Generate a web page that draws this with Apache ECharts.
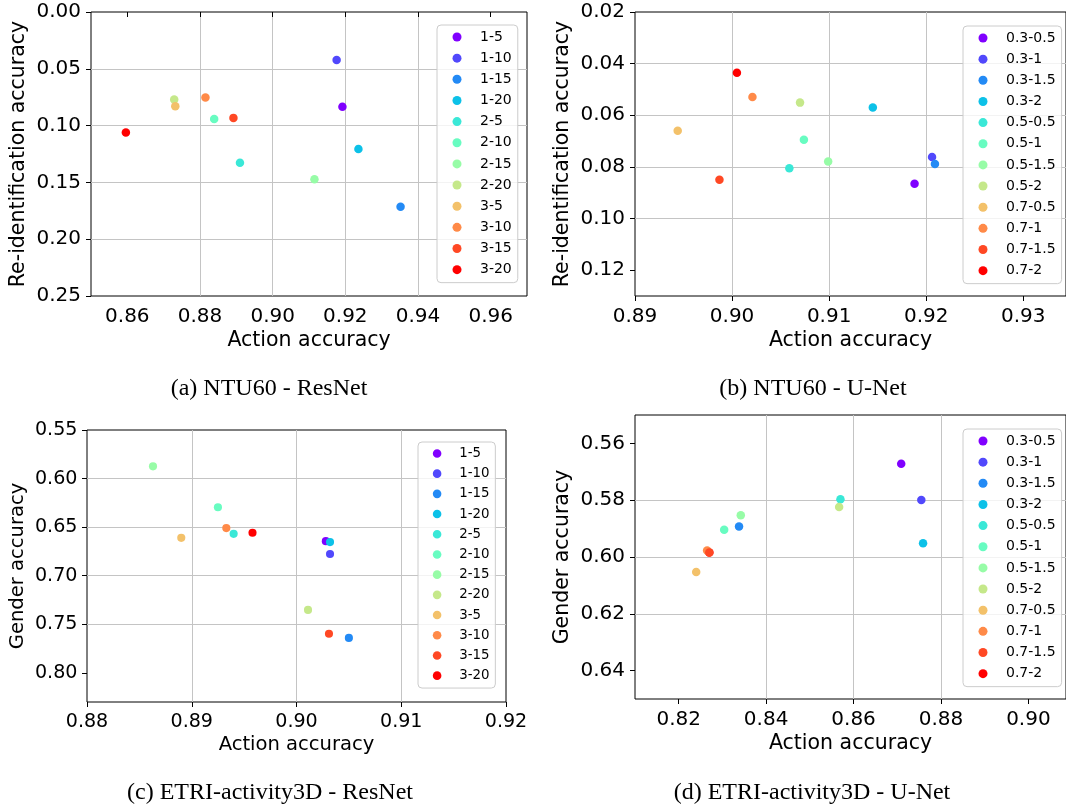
<!DOCTYPE html>
<html><head><meta charset="utf-8">
<script src="https://cdn.jsdelivr.net/npm/echarts@6/dist/echarts.min.js"></script>
<style>html,body{margin:0;padding:0;background:#fff}#c{width:1066px;height:808px}</style>
</head><body><div id="c"></div>
<script>
// ---- categories ----
const resNames = ['1-5','1-10','1-15','1-20','2-5','2-10','2-15','2-20','3-5','3-10','3-15','3-20'];
const unetNames = ['0.3-0.5','0.3-1','0.3-1.5','0.3-2','0.5-0.5','0.5-1','0.5-1.5','0.5-2','0.7-0.5','0.7-1','0.7-1.5','0.7-2'];

// ---- (a) NTU60 - ResNet ----
const ntuResAction = [0.9192,0.9176,0.9352,0.9236,0.8910,0.8839,0.9115,0.8729,0.8732,0.8815,0.8892,0.8596];
const ntuResReid   = [0.0835,0.0423,0.1714,0.1205,0.1326,0.0941,0.1473,0.0770,0.0829,0.0752,0.0932,0.1061];
// ---- (b) NTU60 - U-Net ----
const ntuUnetAction = [0.9188,0.9206,0.9209,0.9145,0.9059,0.9074,0.9099,0.9070,0.8944,0.9021,0.8987,0.9005];
const ntuUnetReid   = [0.0865,0.0762,0.0789,0.0570,0.0805,0.0695,0.0779,0.0551,0.0660,0.0529,0.0850,0.0435];
// ---- (c) ETRI-activity3D - ResNet ----
const etriResAction = [0.9028,0.9032,0.9050,0.9032,0.8940,0.8925,0.8863,0.9011,0.8890,0.8933,0.9031,0.8958];
const etriResGender = [0.6644,0.6777,0.7640,0.6654,0.6569,0.6295,0.5874,0.7352,0.6610,0.6510,0.7598,0.6558];
// ---- (d) ETRI-activity3D - U-Net ----
const etriUnetAction = [0.8709,0.8755,0.8338,0.8759,0.8570,0.8304,0.8342,0.8567,0.8240,0.8265,0.8270,0.8270];
const etriUnetGender = [0.5672,0.5799,0.5893,0.5952,0.5797,0.5904,0.5853,0.5824,0.6053,0.5977,0.5984,0.5984];

// ---- axis ranges and tick labels ----
const rangeAx = [0.85, 0.97],   rangeAy = [0.00, 0.25];
const rangeBx = [0.89, 0.9344], rangeBy = [0.02, 0.13];
const rangeCx = [0.88, 0.92],   rangeCy = [0.55, 0.83];
const rangeDx = [0.81, 0.9086], rangeDy = [0.55, 0.65];
const ticksAx = [0.86,0.88,0.90,0.92,0.94,0.96], ticksAy = [0.00,0.05,0.10,0.15,0.20,0.25];
const ticksBx = [0.89,0.90,0.91,0.92,0.93],      ticksBy = [0.02,0.04,0.06,0.08,0.10,0.12];
const ticksCx = [0.88,0.89,0.90,0.91,0.92],      ticksCy = [0.55,0.60,0.65,0.70,0.75,0.80];
const ticksDx = [0.82,0.84,0.86,0.88,0.90],      ticksDy = [0.56,0.58,0.60,0.62,0.64];

const captions = ['(a) NTU60 - ResNet','(b) NTU60 - U-Net','(c) ETRI-activity3D - ResNet','(d) ETRI-activity3D - U-Net'];
const xTitle = 'Action accuracy';
const yTitles = ['Re-identification accuracy','Re-identification accuracy','Gender accuracy','Gender accuracy'];

// ---- styles ----
const colors = ['#8000ff','#5148fc','#238af5','#0cc1e8','#3ae8d7','#68fcc1','#97fca7','#c5e88a','#f3c16a','#ff8a48','#ff4824','#ff0000'];
const FONT = 'DejaVu Sans';

const panels = [
  {grid:{left:91,top:12,width:436,height:284}, xr:rangeAx, yr:rangeAy, xt:ticksAx, yt:ticksAy, xs:ntuResAction, ys:ntuResReid, names:resNames, s:1, legend:{left:437,top:25}, cap:[269,389]},
  {grid:{left:635,top:12,width:431,height:284}, xr:rangeBx, yr:rangeBy, xt:ticksBx, yt:ticksBy, xs:ntuUnetAction, ys:ntuUnetReid, names:unetNames, s:1, legend:{left:963,top:26}, cap:[813,389]},
  {grid:{left:87,top:430,width:419,height:272}, xr:rangeCx, yr:rangeCy, xt:ticksCx, yt:ticksCy, xs:etriResAction, ys:etriResGender, names:resNames, s:0.955, legend:{left:418,top:442}, cap:[270,793]},
  {grid:{left:635,top:415,width:431,height:284}, xr:rangeDx, yr:rangeDy, xt:ticksDx, yt:ticksDy, xs:etriUnetAction, ys:etriUnetGender, names:unetNames, s:1, legend:{left:963,top:429}, cap:[812,793]}
];

const grids = [], xAxes = [], yAxes = [], legends = [], series = [], graphics = [];
panels.forEach((p, i) => {
  const s = p.s;
  grids.push(Object.assign({show:true, borderColor:'#000', borderWidth:1, containLabel:false}, p.grid));
  const common = (ticks) => ({
    axisLine:{show:false},
    axisTick:{show:true, length:5, inside:false, customValues:ticks, lineStyle:{color:'#000', width:1}},
    axisLabel:{customValues:ticks, formatter:v => Number(v).toFixed(2), fontFamily:FONT, fontSize:20*s, color:'#000', margin:11*s},
    splitLine:{show:true, showMinLine:false, showMaxLine:false, lineStyle:{color:'#c4c4c4', width:1}},
    nameLocation:'middle',
    nameTextStyle:{fontFamily:FONT, fontSize:20.5*s, color:'#000'}
  });
  xAxes.push(Object.assign(common(p.xt), {type:'value', gridIndex:i, min:p.xr[0], max:p.xr[1], name:xTitle, nameGap:34*s}));
  const ya = Object.assign(common(p.yt), {type:'value', gridIndex:i, min:p.yr[0], max:p.yr[1], inverse:true, name:yTitles[i], nameGap:62*s, nameRotate:90});
  ya.axisLabel.margin = 10*s;
  yAxes.push(ya);
  legends.push({
    orient:'vertical', left:p.legend.left, top:p.legend.top, data:p.names, icon:'circle',
    itemWidth:36*s, itemHeight:9*s, itemGap:7.15*s, padding:[5*s,6*s,6*s,15.5*s],
    backgroundColor:'rgba(255,255,255,0.8)', borderColor:'#cccccc', borderWidth:1, borderRadius:4,
    selectedMode:false,
    textStyle:{fontFamily:FONT, fontSize:14*s, lineHeight:14*s, color:'#000'}
  });
  p.names.forEach((n, k) => {
    series.push({
      type:'scatter', name:n, xAxisIndex:i, yAxisIndex:i,
      data:[[p.xs[k], p.ys[k]]], symbol:'circle', symbolSize:8.5*s,
      itemStyle:{color:colors[k], opacity:1}, emphasis:{disabled:true},
      z: (i === 3 && k === 11) ? 1 : 2, silent:true
    });
  });
  graphics.push({type:'text', x:p.cap[0], y:p.cap[1], style:{text:captions[i], fontFamily:'Liberation Serif', fontSize:24, fill:'#000', textAlign:'center', textVerticalAlign:'middle'}});
});

const chart = echarts.init(document.getElementById('c'), null, {renderer:'canvas'});
chart.setOption({
  animation:false,
  backgroundColor:'#fff',
  grid:grids, xAxis:xAxes, yAxis:yAxes, legend:legends, series:series, graphic:graphics
});
</script></body></html>
